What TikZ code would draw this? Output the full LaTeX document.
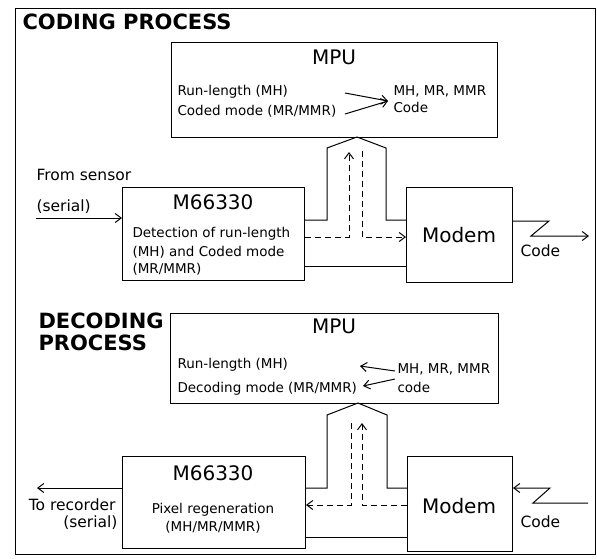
\documentclass[tikz,border=0pt]{standalone}
\usepackage{fontspec}
\setmainfont{DejaVu Sans}
\usetikzlibrary{arrows.meta}
\begin{document}
\begin{tikzpicture}[x=1pt,y=-1pt, line width=1pt,
  box/.style={draw, line width=1pt, inner sep=0pt, anchor=north west},
  title/.style={font=\fontsize{21}{24}\selectfont\bfseries, inner sep=0pt, anchor=base west},
  big/.style={font=\fontsize{20}{24}\selectfont, inner sep=0pt, anchor=base},
  small/.style={font=\fontsize{13.5}{16}\selectfont, inner sep=0pt, anchor=base west},
  mid/.style={font=\fontsize{15.5}{18}\selectfont, inner sep=0pt, anchor=base west},
  arr/.style={-{Straight Barb[length=6pt,width=9pt]}},
  dsh/.style={dash pattern=on 6pt off 4pt},
]
\useasboundingbox (0,0) rectangle (597,558);
% frame
\node[box, line width=1.4pt, minimum width=580pt, minimum height=546pt] (frame) at (15,8) {};

% ---------------- CODING ----------------
\node[title] (t1) at (22,29) {CODING PROCESS};
\node[box, minimum width=326pt, minimum height=95pt] (mpu1) at (171,42) {};
\node[big] (mpu1t) at (334,64) {MPU};
\node[small] (r1) at (177,95) {Run-length (MH)};
\node[small] (c1) at (177,115) {Coded mode (MR/MMR)};
\node[small] (m1) at (393,95) {MH, MR, MMR};
\node[small] (k1) at (393,112) {Code};
\coordinate (a1s) at (345,93);
\coordinate (a2s) at (345,114);
\coordinate (a1e) at (388,101);
\draw[arr] (a1s) -- (a1e);
\draw[arr] (a2s) -- (a1e);

\node[box, minimum width=182pt, minimum height=93pt] (enc) at (122,187) {};
\node[big] (enct) at (213,209) {M66330};
\node[small] (e1) at (132,237) {Detection of run-length};
\node[small] (e2) at (132,256) {(MH) and Coded mode};
\node[small] (e3) at (132,273) {(MR/MMR)};

\node[box, minimum width=106pt, minimum height=95pt] (mod1) at (406,187) {};
\node[big] (mod1t) at (459,242) {Modem};

\node[mid] (fs) at (36,180) {From sensor};
\node[mid] (se1) at (36,211) {(serial)};
\coordinate (in1) at (36,218);
\draw[arr] (in1) -- (enc.west |- in1);

% bus
\coordinate (cb1) at (327,220);
\coordinate (cb2) at (327,148);
\coordinate (cb3) at (357,137);
\coordinate (cb4) at (386,148);
\coordinate (cb5) at (386,220);
\draw (enc.east |- cb1) -- (cb1) -- (cb2) -- (cb3) -- (cb4) -- (cb5) -- (mod1.west |- cb5);
\coordinate (cb6) at (356,266);
\draw (enc.east |- cb6) -- (mod1.west |- cb6);
\coordinate (cd1) at (349,237);
\coordinate (cd2) at (349,152);
\coordinate (cd3) at (362,151);
\coordinate (cd4) at (362,237);
\draw[dsh, arr] (enc.east |- cd1) -- (cd1) -- (cd2);
\draw[dsh, arr] (cd3) -- (cd4) -- (mod1.west |- cd4);

% code out
\coordinate (z1) at (549,221);
\coordinate (z2) at (531,236);
\coordinate (z3) at (589,236);
\draw[arr] (mod1.east |- z1) -- (z1) -- (z2) -- (z3);
\node[mid] (code1) at (520,256) {Code};

% ---------------- DECODING ----------------
\node[title] (t2) at (38,328) {DECODING};
\node[title] (t3) at (38,350) {PROCESS};
\node[box, minimum width=328pt, minimum height=90pt] (mpu2) at (170,313) {};
\node[big] (mpu2t) at (334,333) {MPU};
\node[small] (r2) at (177,368) {Run-length (MH)};
\node[small] (c2) at (177,392) {Decoding mode (MR/MMR)};
\node[small] (m2) at (397,373) {MH, MR, MMR};
\node[small] (k2) at (397,392) {code};
\coordinate (b1s) at (395,371);
\coordinate (b1e) at (360,366);
\coordinate (b2s) at (395,379);
\coordinate (b2e) at (363,386);
\draw[arr] (b1s) -- (b1e);
\draw[arr] (b2s) -- (b2e);

\node[box, minimum width=183pt, minimum height=92pt] (dec) at (122,456) {};
\node[big] (dect) at (213,480) {M66330};
\node[small, anchor=base] (d1) at (213,513) {Pixel regeneration};
\node[small, anchor=base] (d2) at (213,531) {(MH/MR/MMR)};

\node[box, minimum width=105pt, minimum height=95pt] (mod2) at (407,456) {};
\node[big] (mod2t) at (459,513) {Modem};

\coordinate (out2) at (37,488);
\draw[arr] (dec.west |- out2) -- (out2);
\node[mid, anchor=base east] (tr) at (116,510) {To recorder};
\node[mid, anchor=base east] (se2) at (118,527) {(serial)};

% bus
\coordinate (db1) at (327,488);
\coordinate (db2) at (327,415);
\coordinate (db3) at (358,403);
\coordinate (db4) at (387,415);
\coordinate (db5) at (387,488);
\draw (dec.east |- db1) -- (db1) -- (db2) -- (db3) -- (db4) -- (db5) -- (mod2.west |- db5);
\coordinate (db6) at (356,537);
\draw (dec.east |- db6) -- (mod2.west |- db6);
\coordinate (dd1) at (362,505);
\coordinate (dd2) at (362,423);
\coordinate (dd3) at (351,423);
\coordinate (dd4) at (351,505);
\draw[dsh, arr] (mod2.west |- dd1) -- (dd1) -- (dd2);
\draw[dsh, arr] (dd3) -- (dd4) -- (dec.east |- dd4);

% code in
\coordinate (y1) at (588,503);
\coordinate (y2) at (533,503);
\coordinate (y3) at (550,488);
\draw[arr] (y1) -- (y2) -- (y3) -- (mod2.east |- y3);
\node[mid] (code2) at (520,527) {Code};
\end{tikzpicture}
\end{document}
